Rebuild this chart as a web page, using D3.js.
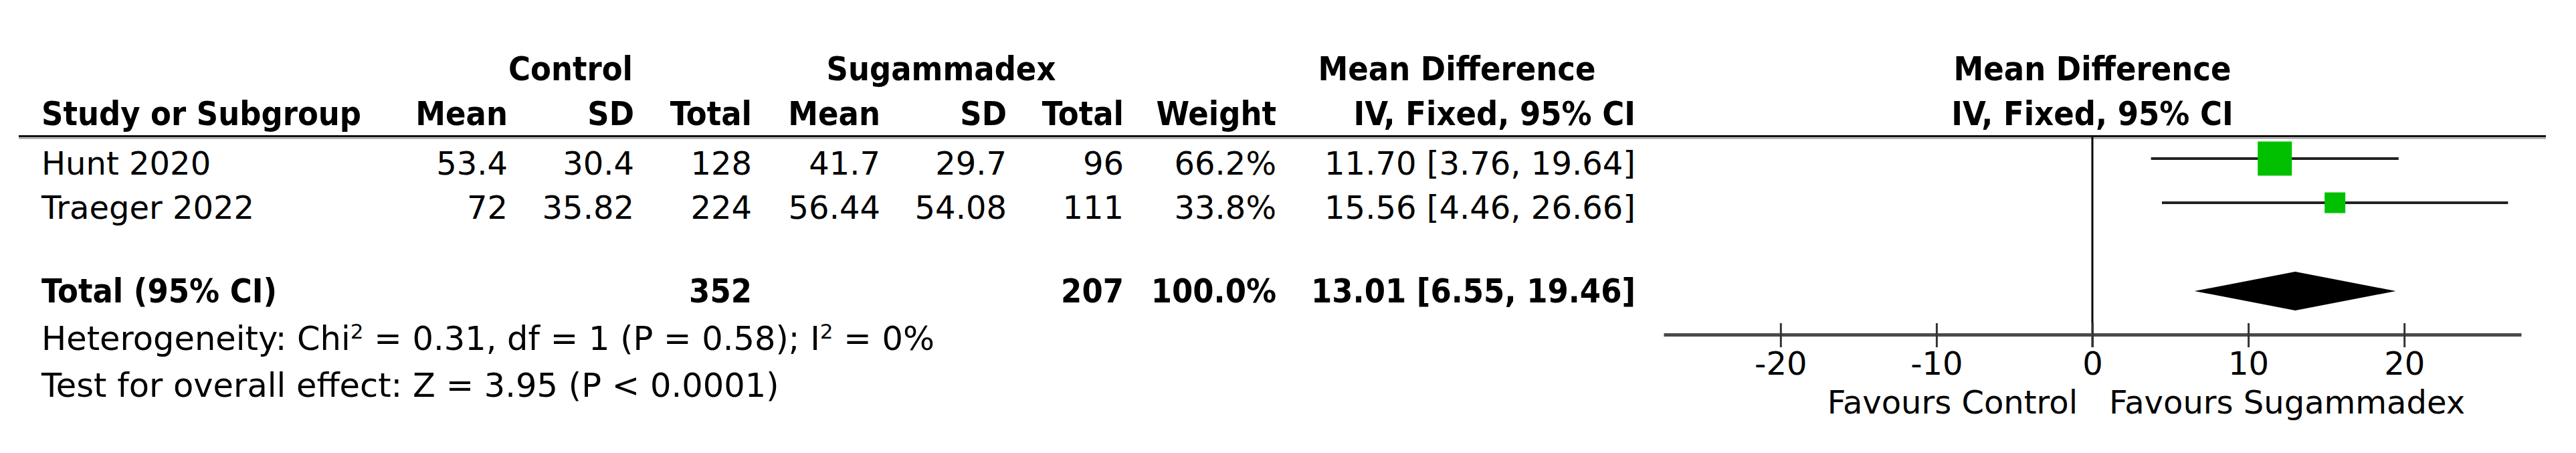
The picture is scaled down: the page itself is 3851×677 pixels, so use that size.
<!DOCTYPE html>
<meta charset="utf-8">
<style>

body { margin: 0; background: #fff; }

.tbl text {
  font-family: 'DejaVu Sans', sans-serif;
  font-size: 48px;
  fill: #000;
}

.tbl text.bold {
  font-family: 'DejaVu Sans Condensed', 'DejaVu Sans', sans-serif;
  font-weight: bold;
  font-size: 50px;
}

.tbl text.foot {
  font-size: 49.5px;
}

</style>
<body>

<div id="forest"></div>

<script src="https://d3js.org/d3.v7.min.js"></script>

<script>

    // study rows
    var studies  = ["Hunt 2020", "Traeger 2022"];
    var ctrlMean = [53.4, 72];
    var ctrlSD   = [30.4, 35.82];
    var ctrlN    = [128, 224];
    var sugMean  = [41.7, 56.44];
    var sugSD    = [29.7, 54.08];
    var sugN     = [96, 111];
    var weights  = [66.2, 33.8];
    var md       = [11.70, 15.56];
    var mdLo     = [3.76, 4.46];
    var mdHi     = [19.64, 26.66];

    // pooled result
    var totalN   = [352, 207];
    var totalW   = 100.0;
    var totalMD  = [13.01, 6.55, 19.46];

    var xTicks   = [-20, -10, 0, 10, 20];

    // canvas
    var width = 3851, height = 677;

    var svg = d3.select("#forest").append("svg")
        .attr("width", width)
        .attr("height", height)
        .attr("class", "tbl");

    // scales
    var x = d3.scaleLinear().domain([-27.5, 27.5]).range([2487, 3769]);
    var boxSize = d3.scaleLinear().domain([0, 100]).range([10, 72]);

    // layout
    var rowBase = [261, 327];      // text baselines of study rows
    var totalBase = 452;
    var hdr1 = 120, hdr2 = 187;
    var col = {cMean: 759, cSD: 948, cN: 1124, sMean: 1316, sSD: 1505, sN: 1680, w: 1908, ci: 2445};
    var nameX = 62;

    function txt(xp, yp, s, anchor, bold) {
        return svg.append("text")
            .attr("x", xp)
            .attr("y", yp)
            .attr("text-anchor", anchor)
            .attr("class", bold ? "bold" : null)
            .text(s);
    }

    function ci(m, lo, hi) {
        return m.toFixed(2) + " [" + lo.toFixed(2) + ", " + hi.toFixed(2) + "]";
    }

    // header, first line
    txt(853, hdr1, "Control", "middle", true);
    txt(1407, hdr1, "Sugammadex", "middle", true);
    txt(2178, hdr1, "Mean Difference", "middle", true);
    txt(x(0), hdr1, "Mean Difference", "middle", true);

    // header, second line
    txt(nameX, hdr2, "Study or Subgroup", "start", true);
    txt(col.cMean, hdr2, "Mean", "end", true);
    txt(col.cSD, hdr2, "SD", "end", true);
    txt(col.cN, hdr2, "Total", "end", true);
    txt(col.sMean, hdr2, "Mean", "end", true);
    txt(col.sSD, hdr2, "SD", "end", true);
    txt(col.sN, hdr2, "Total", "end", true);
    txt(col.w, hdr2, "Weight", "end", true);
    txt(col.ci, hdr2, "IV, Fixed, 95% CI", "end", true);
    txt(x(0), hdr2, "IV, Fixed, 95% CI", "middle", true);

    // header rule (dark line with a grey shadow)
    svg.append("line")
        .attr("x1", 28).attr("x2", 3806)
        .attr("y1", 206.5).attr("y2", 206.5)
        .style("stroke", "#999").style("stroke-width", 2);
    svg.append("line")
        .attr("x1", 28).attr("x2", 3806)
        .attr("y1", 203.5).attr("y2", 203.5)
        .style("stroke", "#111").style("stroke-width", 3);

    // study rows
    studies.forEach(function(s, i) {
        var yb = rowBase[i];
        txt(nameX, yb, s, "start", false);
        txt(col.cMean, yb, String(ctrlMean[i]), "end", false);
        txt(col.cSD, yb, String(ctrlSD[i]), "end", false);
        txt(col.cN, yb, String(ctrlN[i]), "end", false);
        txt(col.sMean, yb, String(sugMean[i]), "end", false);
        txt(col.sSD, yb, String(sugSD[i]), "end", false);
        txt(col.sN, yb, String(sugN[i]), "end", false);
        txt(col.w, yb, weights[i].toFixed(1) + "%", "end", false);
        txt(col.ci, yb, ci(md[i], mdLo[i], mdHi[i]), "end", false);
    });

    // total row
    txt(nameX, totalBase, "Total (95% CI)", "start", true);
    txt(col.cN, totalBase, String(totalN[0]), "end", true);
    txt(col.sN, totalBase, String(totalN[1]), "end", true);
    txt(col.w, totalBase, totalW.toFixed(1) + "%", "end", true);
    txt(col.ci, totalBase, ci(totalMD[0], totalMD[1], totalMD[2]), "end", true);

    // heterogeneity / overall effect
    var het = svg.append("text").attr("class", "foot").attr("x", nameX).attr("y", 523);
    het.append("tspan").text("Heterogeneity: Chi");
    het.append("tspan").attr("dy", -17).style("font-size", "31px").text("2");
    het.append("tspan").attr("dy", 17).text(" = 0.31, df = 1 (P = 0.58); I");
    het.append("tspan").attr("dy", -17).style("font-size", "31px").text("2");
    het.append("tspan").attr("dy", 17).text(" = 0%");

    txt(nameX, 593, "Test for overall effect: Z = 3.95 (P < 0.0001)", "start", false)
        .attr("class", "foot");

    // line of no effect
    svg.append("line")
        .attr("x1", x(0)).attr("x2", x(0))
        .attr("y1", 205).attr("y2", 519)
        .style("stroke", "#000").style("stroke-width", 3);

    // x axis
    var axis = svg.append("g")
        .attr("transform", "translate(0,500)")
        .call(d3.axisBottom(x)
            .tickValues(xTicks)
            .tickSizeInner(19)
            .tickSizeOuter(0)
            .tickPadding(7)
            .tickFormat(function(d) { return d < 0 ? "-" + Math.abs(d) : String(d); }));

    axis.attr("font-size", null).attr("font-family", null);
    axis.select(".domain").style("stroke", "#4a4a4a").style("stroke-width", 5);
    axis.selectAll(".tick line")
        .attr("y1", -17)
        .style("stroke", "#333")
        .style("stroke-width", 3);
    axis.selectAll(".tick text").style("fill", "#000");

    // favours labels
    txt(x(0) - 22, 618, "Favours Control", "end", false);
    txt(x(0) + 25, 618, "Favours Sugammadex", "start", false);

    // confidence intervals
    svg.selectAll(".ciline")
        .data(studies)
        .enter().append("line")
        .attr("class", "ciline")
        .attr("x1", function(d, i) { return x(mdLo[i]); })
        .attr("x2", function(d, i) { return x(mdHi[i]); })
        .attr("y1", function(d, i) { return rowBase[i] - 24; })
        .attr("y2", function(d, i) { return rowBase[i] - 24; })
        .style("stroke", "#222")
        .style("stroke-width", 4);

    // weight squares
    svg.selectAll(".box")
        .data(studies)
        .enter().append("rect")
        .attr("class", "box")
        .attr("x", function(d, i) { return x(md[i]) - boxSize(weights[i]) / 2; })
        .attr("y", function(d, i) { return rowBase[i] - 24 - boxSize(weights[i]) / 2; })
        .attr("width", function(d, i) { return boxSize(weights[i]); })
        .attr("height", function(d, i) { return boxSize(weights[i]); })
        .style("fill", "#00c000");

    // pooled diamond
    var cy = totalBase - 17;
    svg.append("polygon")
        .attr("points", [
            [x(totalMD[1]), cy],
            [x(totalMD[0]), cy - 29],
            [x(totalMD[2]), cy],
            [x(totalMD[0]), cy + 29]
        ].join(" "))
        .style("fill", "#000");

</script>

</body>
